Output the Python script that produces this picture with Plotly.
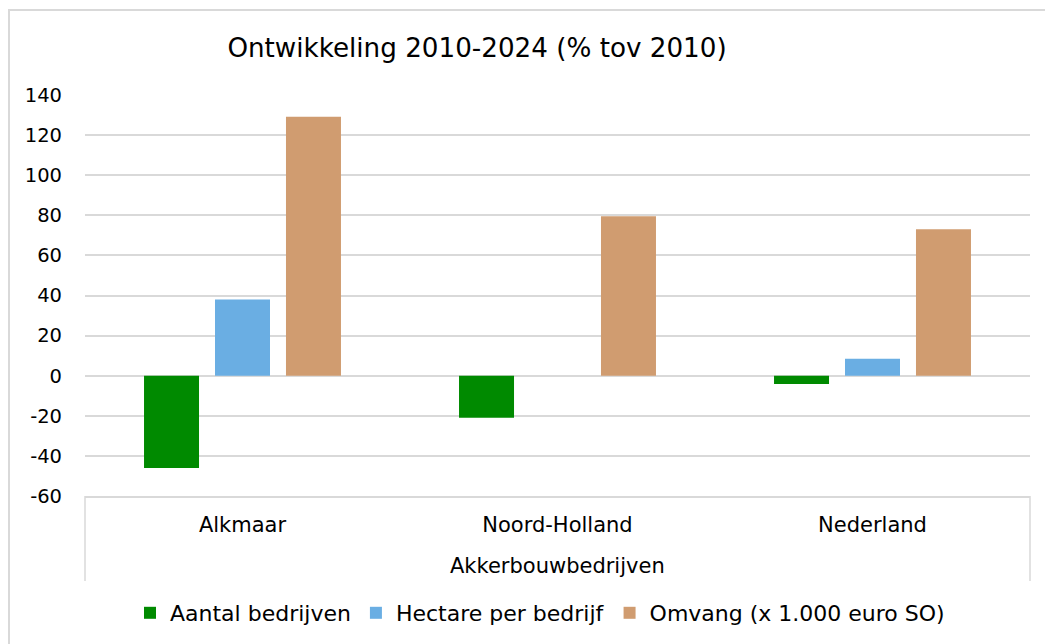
import plotly.graph_objects as go

groep = "Akkerbouwbedrijven"
regio = ["Alkmaar", "Noord-Holland", "Nederland"]
aantal_bedrijven = [-46, -21, -4.2]
hectare_per_bedrijf = [38, 0, 8.5]
omvang = [129.2, 79.5, 73]

y_ticks = [-60, -40, -20, 0, 20, 40, 60, 80, 100, 120, 140]
y_ticktext = ["-60", "-40", "-20", "0", "20", "40", "60", "80", "100", "120", "140"]

series = [
    ("Aantal bedrijven", aantal_bedrijven, "#008A00"),
    ("Hectare per bedrijf", hectare_per_bedrijf, "#6AAEE3"),
    ("Omvang (x 1.000 euro SO)", omvang, "#D09C70"),
]

font = "Verdana, DejaVu Sans, sans-serif"
grid = "#D9D9D9"
# the page body has an 8px margin, so positions are shifted 8px up/left
off = 8
W, H = 1053, 644
left, right, top, bottom = 85 - off, 1030 - off, 95 - off, 496 - off

fig = go.Figure()
for name, vals, color in series:
    fig.add_trace(go.Bar(x=regio, y=vals, name=name, marker=dict(color=color, line=dict(width=0))))

fig.update_layout(
    width=W, height=H,
    paper_bgcolor="white", plot_bgcolor="white",
    margin=dict(l=left, r=W - right, t=top, b=H - bottom, autoexpand=False),
    font=dict(family=font, size=18, color="#000000"),
    barmode="group", bargap=0.324, bargroupgap=0.225,
    title=dict(text="Ontwikkeling 2010-2024 (% tov 2010)", x=(477 - off) / W, xanchor="center",
               xref="container", y=1 - (48 - off) / H, yanchor="middle", yref="container",
               font=dict(size=26.2, family=font)),
    legend=dict(orientation="h", x=(540 - off) / W, xanchor="center", xref="container",
                y=1 - (613 - off) / H, yanchor="middle", yref="container",
                font=dict(size=22), itemwidth=30, tracegroupgap=0),
    showlegend=True,
)
fig.update_yaxes(range=[-60, 140], tickvals=y_ticks, ticktext=y_ticktext,
                 showgrid=True, gridcolor=grid, gridwidth=1.5,
                 zeroline=True, zerolinecolor=grid, zerolinewidth=1.5,
                 showline=False, ticks="", ticklabelstandoff=22, tickfont=dict(size=19.5),
                 automargin=False)
fig.update_xaxes(showline=True, linecolor=grid, linewidth=1.5, showgrid=False,
                 tickfont=dict(size=21), ticks="", ticklabelstandoff=9, automargin=False)

# category group label and the frame of the category axis
ph = bottom - top
fig.add_annotation(text=groep, xref="paper", yref="paper", x=0.5, y=-(566 - 496) / ph,
                   xanchor="center", yanchor="middle", showarrow=False, font=dict(size=21))
for xe in (0, 1):
    fig.add_shape(type="line", xref="paper", yref="paper", x0=xe, x1=xe, y0=0, y1=-(581 - 496) / ph,
                  line=dict(color=grid, width=1.5))

# chart border (left edge sits at the figure edge)
fig.add_shape(type="rect", xref="paper", yref="paper",
              x0=-(left - 1) / (right - left), x1=1.3, y0=-0.6, y1=1 + (95 - 10) / ph,
              line=dict(color=grid, width=2), layer="below")

fig.write_html("out.html")
